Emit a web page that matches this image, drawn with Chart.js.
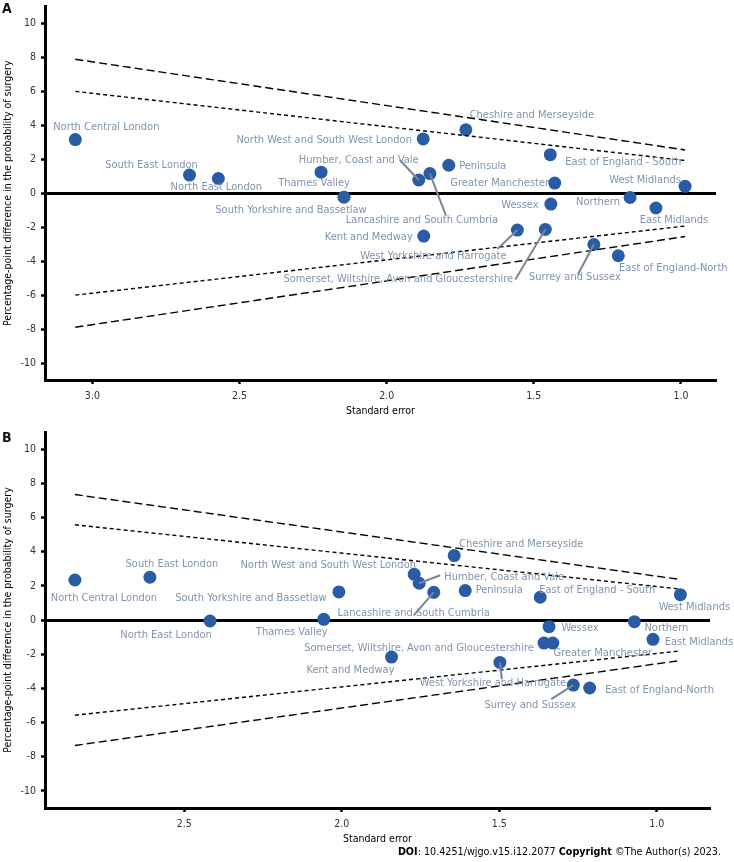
<!DOCTYPE html>
<html>
<head>
<meta charset="utf-8">
<script src="https://cdn.jsdelivr.net/npm/chart.js@4/dist/chart.umd.min.js"></script>
<style>
  body { margin: 0; width: 734px; height: 862px; background: #fff; position: relative; overflow: hidden;
         font-family: "DejaVu Sans Condensed", "Liberation Sans", sans-serif; }
  .panel { position: absolute; left: 0; }
  .tag { position: absolute; font-weight: bold; font-size: 14px; color: #111; }
  #doi { position: absolute; right: 13px; top: 845px; font-size: 10.7px; color: #000; white-space: nowrap; }
</style>
</head>
<body>
<canvas id="chartA" class="panel" width="734" height="420" style="top:0"></canvas>
<canvas id="chartB" class="panel" width="734" height="428" style="top:420px"></canvas>
<div class="tag" style="left:2px;top:0px">A</div>
<div class="tag" style="left:2px;top:429px">B</div>
<div id="doi"><b>DOI</b>: 10.4251/wjgo.v15.i12.2077 <b>Copyright</b> &copy;The Author(s) 2023.</div>
<script>
// regions, same order in both panels
var regions = ["North Central London", "South East London", "North East London", "Thames Valley",
  "South Yorkshire and Bassetlaw", "North West and South West London", "Cheshire and Merseyside",
  "Humber, Coast and Vale", "Lancashire and South Cumbria", "Peninsula", "East of England - South",
  "Greater Manchester", "Wessex", "Northern", "East Midlands", "West Midlands", "Kent and Medway",
  "West Yorkshire and Harrogate", "Somerset, Wiltshire, Avon and Gloucestershire", "Surrey and Sussex",
  "East of England-North"];

// panel A values
var seA = [3.058, 2.670, 2.572, 2.223, 2.145, 1.876, 1.731, 1.891, 1.853, 1.789, 1.444,
  1.429, 1.442, 1.173, 1.085, 0.986, 1.874, 1.556, 1.461, 1.296, 1.213];
var diffA = [3.16, 1.07, 0.87, 1.24, -0.23, 3.20, 3.74, 0.78, 1.16, 1.65, 2.27,
  0.60, -0.64, -0.25, -0.87, 0.41, -2.52, -2.17, -2.13, -3.02, -3.68];
var funnelSeA = [3.058, 0.986];
var upper99A = [7.89, 2.55];
var upper95A = [6.00, 1.93];
var lower95A = [-6.00, -1.93];
var lower99A = [-7.89, -2.55];

// panel B values
var seB = [2.847, 2.609, 2.418, 2.057, 2.009, 1.770, 1.643, 1.754, 1.708, 1.608, 1.370,
  1.330, 1.342, 1.071, 1.012, 0.925, 1.842, 1.498, 1.358, 1.265, 1.213];
var diffB = [2.34, 2.50, -0.06, 0.04, 1.64, 2.67, 3.77, 2.15, 1.62, 1.72, 1.33,
  -1.35, -0.39, -0.10, -1.13, 1.48, -2.17, -2.48, -1.35, -3.81, -3.98];
var funnelSeB = [2.847, 0.925];
var upper99B = [7.34, 2.37];
var upper95B = [5.57, 1.81];
var lower95B = [-5.57, -1.81];
var lower99B = [-7.34, -2.37];

var yTicks = [-10, -8, -6, -4, -2, 0, 2, 4, 6, 8, 10];

// label placement (pixel offsets from the point), kept apart from the data
var labelPosA = [[31,-12],[-38,-10],[-2,9],[-7,11],[-53,13],[-99,1],[66,-15],[-60,-20],[-8,47],[34,1],[73,7],
  [-55,0],[-31,1],[-32,5],[18,12],[-40,-6],[-55,1],[-84,26],[-147,50],[-19,33],[55,12]];
var leaderA = {7: [-19,-20], 8: [16,42], 17: [-20,19], 18: [-30,50], 19: [-16,30]};
var labelPosB = [[29,18],[22,-13],[-44,14],[-32,13],[-88,6],[-86,-9],[67,-11],[85,-6],[-20,21],[34,0],[57,-7],
  [50,10],[31,1],[32,6],[46,3],[14,12],[-41,13],[-7,21],[-125,5],[-43,20],[70,2]];
var leaderB = {7: [21,-8], 8: [-20,23], 17: [2,17], 19: [-22,14]};

var FONT = '"DejaVu Sans Condensed", "Liberation Sans", sans-serif';

function pairs(xs, ys) {
  return xs.map(function(x, i) { return {x: x, y: ys[i]}; });
}

function funnelLine(se, vals, dash) {
  return {
    data: pairs(se, vals), showLine: true, borderColor: '#000', borderWidth: 1.4,
    borderDash: dash, pointRadius: 0, fill: false
  };
}

// draws region names and leader segments
var labelPlugin = {
  id: 'regionLabels',
  afterDatasetsDraw: function(chart) {
    var o = chart.options.plugins.regionLabels;
    var meta = chart.getDatasetMeta(4);
    var ctx = chart.ctx;
    ctx.save();
    ctx.strokeStyle = '#7a8696';
    ctx.lineWidth = 2;
    meta.data.forEach(function(pt, i) {
      var l = o.leaders[i];
      if (l) {
        ctx.beginPath();
        ctx.moveTo(pt.x, pt.y);
        ctx.lineTo(pt.x + l[0], pt.y + l[1]);
        ctx.stroke();
      }
    });
    ctx.font = '11px ' + FONT;
    ctx.fillStyle = '#7f93ae';
    ctx.textAlign = 'center';
    ctx.textBaseline = 'middle';
    meta.data.forEach(function(pt, i) {
      var p = o.pos[i];
      ctx.fillText(regions[i], pt.x + p[0], pt.y + p[1]);
    });
    ctx.restore();
  }
};

function makePanel(id, se, diff, fse, u99, u95, l95, l99, xMin, xMax, padTop, padRight, pos, leaders) {
  new Chart(document.getElementById(id), {
    type: 'scatter',
    data: {
      datasets: [
        funnelLine(fse, u99, [8, 4]),
        funnelLine(fse, u95, [4, 3]),
        funnelLine(fse, l95, [4, 3]),
        funnelLine(fse, l99, [8, 4]),
        {
          data: pairs(se, diff), backgroundColor: '#2a5ca6', borderWidth: 0,
          pointRadius: 6.5, pointHoverRadius: 6.5
        }
      ]
    },
    options: {
      responsive: false,
      animation: false,
      layout: { padding: { top: padTop, right: padRight, left: 0, bottom: 0 } },
      plugins: {
        legend: { display: false },
        tooltip: { enabled: false },
        regionLabels: { pos: pos, leaders: leaders }
      },
      scales: {
        x: {
          type: 'linear', reverse: true, min: xMin, max: xMax,
          border: { display: true, color: '#000', width: 3 },
          grid: { display: true, drawOnChartArea: false, drawTicks: true, tickLength: 4,
                  tickColor: '#000', tickWidth: 2.5 },
          ticks: { stepSize: 0.5, includeBounds: false, padding: 6, color: '#333',
                   font: { family: FONT, size: 10.5 },
                   callback: function(v) { return v.toFixed(1); } },
          title: { display: true, text: 'Standard error', color: '#000',
                   font: { family: FONT, size: 10.5 }, padding: { top: 2, bottom: 2 } },
          afterFit: function(s) { s.height = 40; s.paddingLeft = 0; s.paddingRight = 0; }
        },
        y: {
          type: 'linear', min: -11, max: 11,
          border: { display: true, color: '#000', width: 3 },
          grid: { display: true, drawOnChartArea: true, drawTicks: true, tickLength: 4,
                  tickColor: '#000', tickWidth: 2.5,
                  color: function(c) { return c.tick && c.tick.value === 0 ? '#000' : 'rgba(0,0,0,0)'; },
                  lineWidth: function(c) { return c.tick && c.tick.value === 0 ? 3 : 1; } },
          afterBuildTicks: function(s) { s.ticks = yTicks.map(function(v) { return {value: v}; }); },
          ticks: { includeBounds: false, padding: 5, color: '#333',
                   font: { family: FONT, size: 10.5 } },
          title: { display: true, text: 'Percentage-point difference in the probability of surgery',
                   color: '#000', font: { family: FONT, size: 10.5 }, padding: { top: 2, bottom: 1 } },
          afterFit: function(s) { s.width = 45; s.paddingTop = 0; s.paddingBottom = 0; }
        }
      }
    },
    plugins: [labelPlugin]
  });
}

makePanel('chartA', seA, diffA, funnelSeA, upper99A, upper95A, lower95A, lower99A,
  0.881, 3.161, 3, 18, labelPosA, leaderA);
makePanel('chartB', seB, diffB, funnelSeB, upper99B, upper95B, lower95B, lower99B,
  0.831, 2.942, 12, 24, labelPosB, leaderB);
</script>
</body>
</html>
